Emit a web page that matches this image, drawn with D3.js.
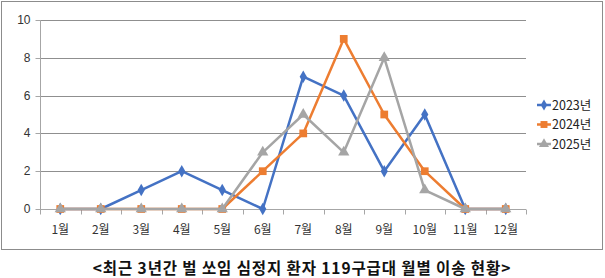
<!DOCTYPE html>
<html>
<head>
<meta charset="utf-8">
<script src="https://cdn.jsdelivr.net/npm/d3@7"></script>
<style>
  body { margin: 0; background: #fff; }
  svg { display: block; font-family: "Noto Sans CJK KR", "Noto Sans", sans-serif; }
</style>
</head>
<body>
<svg id="chart"></svg>
<script>
// chart data
const months = ['1월', '2월', '3월', '4월', '5월', '6월', '7월', '8월', '9월', '10월', '11월', '12월'];
const years = ['2023년', '2024년', '2025년'];
const values2023 = [0, 0, 1, 2, 1, 0, 7, 6, 2, 5, 0, 0];
const values2024 = [0, 0, 0, 0, 0, 2, 4, 9, 5, 2, 0, 0];
const values2025 = [0, 0, 0, 0, 0, 3, 5, 3, 8, 1, 0, 0];
const yTicks = [0, 2, 4, 6, 8, 10];
const title = '<최근 3년간 벌 쏘임 심정지 환자 119구급대 월별 이송 현황>';

const colors = ['#4472C4', '#ED7D31', '#A5A5A5'];
const seriesValues = [values2023, values2024, values2025];

const W = 605, H = 278;
const margin = { top: 20, left: 40, right: 79, bottom: 69 };

const svg = d3.select('#chart').attr('width', W).attr('height', H);

// outer chart box
svg.append('rect')
    .attr('x', 1.5).attr('y', 1.5)
    .attr('width', 601).attr('height', 248)
    .attr('fill', '#fff')
    .attr('stroke', '#8c8c8c');

const width = W - margin.left - margin.right;
const height = H - margin.top - margin.bottom;

const chart = svg.append('g')
    .attr('transform', `translate(${margin.left},${margin.top})`);

const xScale = d3.scaleBand().domain(months).range([0, width]);
const yScale = d3.scaleLinear().domain([0, 10]).range([height, 0]);

// gridlines
chart.append('g')
    .selectAll('line')
    .data(yTicks.filter(d => d > 0))
    .join('line')
    .attr('x1', 0).attr('x2', width)
    .attr('y1', d => Math.round(yScale(d)) + 0.5)
    .attr('y2', d => Math.round(yScale(d)) + 0.5)
    .attr('stroke', '#8f8f8f');

// y axis
const yAxis = chart.append('g')
    .attr('transform', 'translate(0.5,0)')
    .call(d3.axisLeft(yScale).tickValues(yTicks).tickSize(5).tickPadding(5)
        .tickFormat(d3.format('d')).offset(0));
yAxis.select('.domain').attr('stroke', '#a6a6a6').attr('d', `M0,${yScale(10)}V${height}`);
yAxis.selectAll('.tick line').attr('stroke', '#a6a6a6');
yAxis.selectAll('.tick text').attr('font-size', 12).attr('fill', '#333');
yAxis.selectAll('.tick').attr('transform', d => `translate(0,${Math.round(yScale(d)) + 0.5})`);

// x axis with ticks at category boundaries
const xAxisG = chart.append('g').attr('transform', `translate(0,${Math.round(height) + 0.5})`);
xAxisG.append('line')
    .attr('x1', 0).attr('x2', width)
    .attr('stroke', '#a6a6a6');
xAxisG.selectAll('.bound')
    .data(months.concat(['end']))
    .join('line')
    .attr('class', 'bound')
    .attr('x1', (d, i) => Math.round(i * xScale.bandwidth()) + 0.5)
    .attr('x2', (d, i) => Math.round(i * xScale.bandwidth()) + 0.5)
    .attr('y1', 0).attr('y2', 5)
    .attr('stroke', '#a6a6a6');
xAxisG.selectAll('text')
    .data(months)
    .join('text')
    .attr('x', d => xScale(d) + xScale.bandwidth() / 2)
    .attr('y', 24)
    .attr('text-anchor', 'middle')
    .attr('font-size', 12)
    .attr('fill', '#333')
    .text(d => d);

// series lines and markers
const line = d3.line()
    .x((d, i) => xScale(months[i]) + xScale.bandwidth() / 2)
    .y(d => yScale(d));

const symbols = [d3.symbolDiamond, d3.symbolSquare, d3.symbolTriangle];
const symbolSizes = [45, 60, 55];

seriesValues.forEach((vals, s) => {
    const g = chart.append('g');
    g.append('path')
        .datum(vals)
        .attr('d', line)
        .attr('fill', 'none')
        .attr('stroke', colors[s])
        .attr('stroke-width', 2.5)
        .attr('stroke-linejoin', 'round');
    g.selectAll('path.mk')
        .data(vals)
        .join('path')
        .attr('class', 'mk')
        .attr('d', d3.symbol().type(symbols[s]).size(symbolSizes[s]))
        .attr('transform', (d, i) => `translate(${xScale(months[i]) + xScale.bandwidth() / 2},${yScale(d)})`)
        .attr('fill', colors[s]);
});

// legend
const legend = svg.append('g').attr('transform', 'translate(537,105)');
years.forEach((y, i) => {
    const row = legend.append('g').attr('transform', `translate(0,${i * 19.5})`);
    row.append('line')
        .attr('x1', 0).attr('x2', 14)
        .attr('stroke', colors[i]).attr('stroke-width', 2.5);
    row.append('path')
        .attr('d', d3.symbol().type(symbols[i]).size(symbolSizes[i] * 0.8))
        .attr('transform', 'translate(7,0)')
        .attr('fill', colors[i]);
    row.append('text')
        .attr('x', 15).attr('y', 4.5)
        .attr('font-size', 12.5)
        .attr('fill', '#222')
        .text(y);
});

// title
svg.append('text')
    .attr('x', 302).attr('y', 274)
    .attr('text-anchor', 'middle')
    .attr('font-size', 15.5)
    .attr('font-weight', 'bold')
    .attr('letter-spacing', 0.9)
    .attr('fill', '#111')
    .text(title);
</script>
</body>
</html>
